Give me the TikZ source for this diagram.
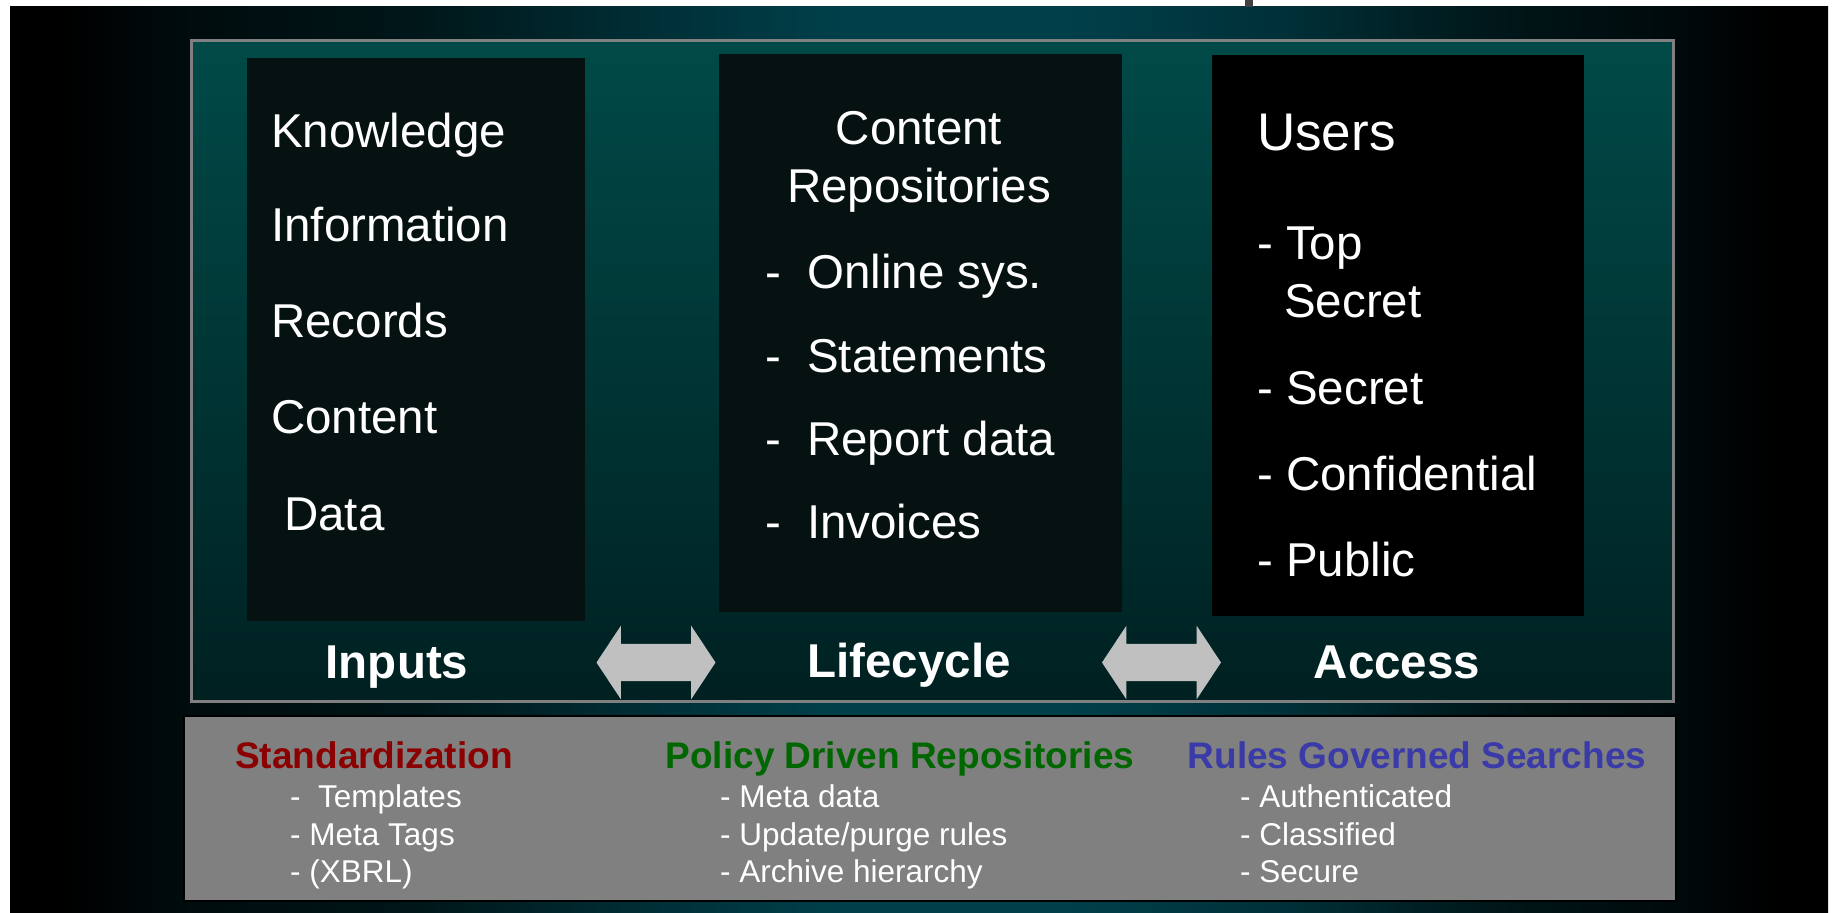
\documentclass[tikz,border=0pt]{standalone}
\usepackage{fontspec}
\setmainfont{Liberation Sans}
\usetikzlibrary{shapes.arrows}
\definecolor{panelTop}{RGB}{0,74,72}
\definecolor{panelBot}{RGB}{0,32,33}
\definecolor{bgMid}{RGB}{0,64,74}
\definecolor{bgMidB}{RGB}{0,48,56}
\definecolor{bgDark}{RGB}{0,22,24}
\definecolor{bgDarker}{RGB}{0,12,14}
\definecolor{boxTex}{RGB}{6,18,18}
\definecolor{headRed}{RGB}{139,0,0}
\definecolor{headGreen}{RGB}{0,102,0}
\definecolor{headBlue}{RGB}{58,58,168}
\definecolor{arrowGray}{RGB}{192,192,192}
\definecolor{panelLine}{RGB}{128,128,128}
\definecolor{markGray}{RGB}{64,64,64}
\pgfdeclarehorizontalshading{bgshade}{100bp}{color(0bp)=(black); color(25bp)=(black); color(26.5bp)=(black); color(30bp)=(bgDarker); color(36bp)=(bgDark); color(43bp)=(bgMidB); color(48bp)=(bgMid); color(54bp)=(bgMid); color(60bp)=(bgMidB); color(66bp)=(bgDark); color(70bp)=(bgDarker); color(73.5bp)=(black); color(75bp)=(black); color(100bp)=(black)}
\begin{document}
\begin{tikzpicture}[x=1pt,y=-1pt,
  box/.style={fill=boxTex, inner sep=0pt, anchor=north west},
  boxtxt/.style={text=white, font=\fontsize{47.5}{57}\selectfont, inner sep=0pt, anchor=base west},
  boxtxtc/.style={text=white, font=\fontsize{47.5}{57}\selectfont, inner sep=0pt, anchor=base},
  lab/.style={text=white, font=\bfseries\fontsize{47.5}{57}\selectfont, inner sep=0pt, anchor=base},
  headtxt/.style={font=\bfseries\fontsize{37}{44}\selectfont, inner sep=0pt, anchor=base},
  itemtxt/.style={text=white, font=\fontsize{31.5}{38}\selectfont, inner sep=0pt, anchor=base west},
  blockarrow/.style={double arrow, fill=arrowGray, minimum height=119pt,
     inner xsep=0pt, inner ysep=18.5pt, text width=0pt, text height=0pt, text depth=0pt,
     double arrow head extend=18pt, double arrow tip angle=113}]
\useasboundingbox (0,0) rectangle (1832,913);
\fill[white] (0,0) rectangle (1832,913);
\shade[shading=bgshade] (10,6) rectangle (1828,913);
\fill[markGray] (1245,0) rectangle (1253,7);
% main panel
\node[draw=panelLine, line width=2.5pt, top color=panelTop, bottom color=panelBot,
  minimum width=1482pt, minimum height=661pt, inner sep=0pt, anchor=north west] (panel) at (190,39) {};
% three boxes
\node[box, minimum width=338pt, minimum height=563pt] (inbox) at (247,58) {};
\node[box, minimum width=403pt, minimum height=558pt] (lifebox) at (719,54) {};
\node[box, fill=black, minimum width=372pt, minimum height=561pt] (accbox) at (1212,55) {};
% inputs text
\node[boxtxt] (k1) at (271,147) {Knowledge};
\node[boxtxt] (k2) at (271,241) {Information};
\node[boxtxt] (k3) at (271,337) {Records};
\node[boxtxt] (k4) at (271,433) {Content};
\node[boxtxt] (k5) at (284,530) {Data};
% lifecycle text
\node[boxtxtc] (c1) at (919,144) {Content};
\node[boxtxtc] (c2) at (919,202) {Repositories};
\node[boxtxt] (d1) at (765,288) {-};
\node[boxtxt] (c3) at (807,288) {Online sys.};
\node[boxtxt] (d2) at (765,372) {-};
\node[boxtxt] (c4) at (807,372) {Statements};
\node[boxtxt] (d3) at (765,455) {-};
\node[boxtxt] (c5) at (807,455) {Report data};
\node[boxtxt] (d4) at (765,538) {-};
\node[boxtxt] (c6) at (807,538) {Invoices};
% access text
\node[boxtxt, font=\fontsize{53}{62}\selectfont] (u0) at (1257,150) {Users};
\node[boxtxt] (u1) at (1257,259) {- Top};
\node[boxtxt] (u1b) at (1284,317) {Secret};
\node[boxtxt] (u2) at (1257,404) {- Secret};
\node[boxtxt] (u3) at (1257,490) {- Confidential};
\node[boxtxt] (u4) at (1257,576) {- Public};
% labels
\node[lab] (inputs) at (397,678) {Inputs};
\node[lab] (lifecycle) at (909,677) {Lifecycle};
\node[lab] (access) at (1397,678) {Access};
% block arrows
\node[blockarrow] (arrA) at (656,662.5) {};
\node[blockarrow] (arrB) at (1161.5,662.5) {};
% bottom gray box
\node[draw=black, line width=2pt, fill=panelLine, minimum width=1492pt, minimum height=185pt,
  inner sep=0pt, anchor=north west] (policy) at (183,715) {};
\node[headtxt, text=headRed] (h1) at (374,768) {Standardization};
\node[headtxt, text=headGreen] (h2) at (900,768) {Policy Driven Repositories};
\node[headtxt, text=headBlue] (h3) at (1417,768) {Rules Governed Searches};
\node[itemtxt] (s1) at (290,807) {-\ \ Templates};
\node[itemtxt] (s2) at (290,845) {- Meta Tags};
\node[itemtxt] (s3) at (290,882) {- (XBRL)};
\node[itemtxt] (p1) at (720,807) {- Meta data};
\node[itemtxt] (p2) at (720,845) {- Update/purge rules};
\node[itemtxt] (p3) at (720,882) {- Archive hierarchy};
\node[itemtxt] (r1) at (1240,807) {- Authenticated};
\node[itemtxt] (r2) at (1240,845) {- Classified};
\node[itemtxt] (r3) at (1240,882) {- Secure};
\end{tikzpicture}
\end{document}
